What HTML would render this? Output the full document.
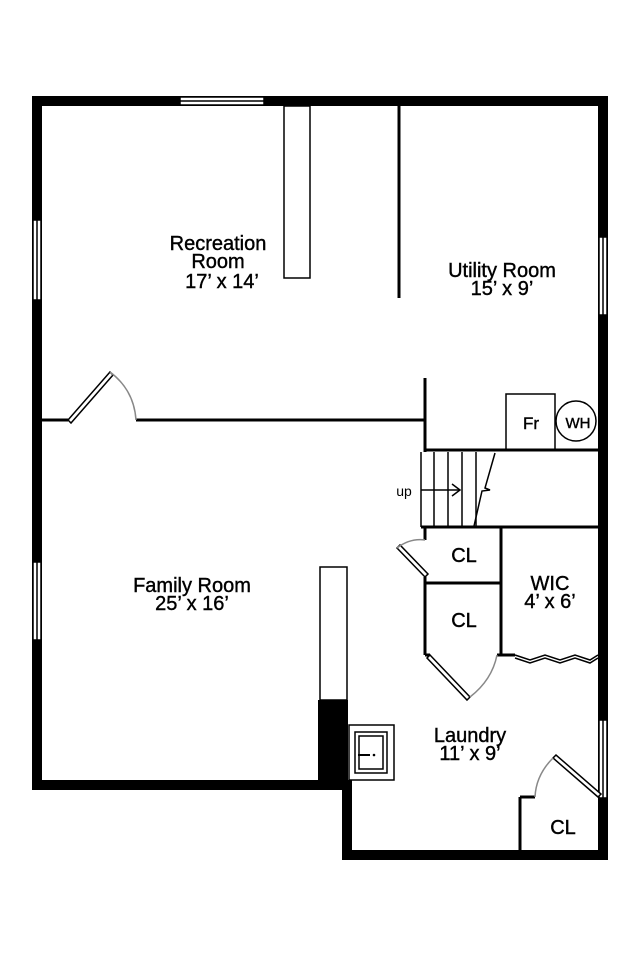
<!DOCTYPE html>
<html><head><style>body{margin:0;background:#fff}svg{display:block}text{font-family:"Liberation Sans",sans-serif;fill:#000}</style></head>
<body>
<svg width="640" height="960" viewBox="0 0 640 960" xmlns="http://www.w3.org/2000/svg">
<g fill="#000">
<rect x="32" y="96" width="576" height="10"/>
<rect x="32" y="96" width="10" height="694"/>
<rect x="598" y="96" width="10" height="764"/>
<rect x="32" y="780" width="320" height="10"/>
<rect x="342" y="780" width="10" height="80"/>
<rect x="342" y="850" width="266" height="10"/>
<rect x="318" y="700" width="30" height="90"/>
</g>
<g fill="#fff" stroke="#000" stroke-width="1.5">
<rect x="180" y="97" width="84" height="8"/><line x1="180" y1="101" x2="264" y2="101"/>
<rect x="33" y="220" width="8" height="80"/><line x1="37" y1="220" x2="37" y2="300"/>
<rect x="33" y="562" width="8" height="78"/><line x1="37" y1="562" x2="37" y2="640"/>
<rect x="599" y="237" width="8" height="78"/><line x1="603" y1="237" x2="603" y2="315"/>
<rect x="599" y="720" width="8" height="78"/><line x1="603" y1="720" x2="603" y2="798"/>
<rect x="284" y="106" width="26" height="172"/>
<rect x="320" y="567" width="27" height="133"/>
<rect x="506" y="394" width="49" height="56"/>
<circle cx="576" cy="421" r="20"/>
<rect x="349" y="725" width="45" height="55"/>
<rect x="355" y="732" width="32" height="41"/>
<rect x="359" y="736" width="24" height="33"/>
</g>
<g stroke="#000" stroke-width="3" fill="none">
<line x1="399" y1="106" x2="399" y2="298"/>
<line x1="42" y1="420" x2="68" y2="420"/>
<line x1="136" y1="420" x2="425" y2="420"/>
<line x1="425" y1="378" x2="425" y2="452"/>
<line x1="425" y1="450" x2="598" y2="450"/>
<line x1="421" y1="527" x2="598" y2="527"/>
<line x1="425" y1="527" x2="425" y2="540"/>
<line x1="425" y1="577" x2="425" y2="655"/>
<line x1="425" y1="583" x2="501" y2="583"/>
<line x1="501" y1="527" x2="501" y2="655"/>
<line x1="425" y1="655" x2="430" y2="655"/>
<line x1="497" y1="655" x2="515" y2="655"/>
<line x1="520" y1="797" x2="520" y2="850"/>
<line x1="520" y1="797" x2="535" y2="797"/>
</g>
<g stroke="#000" stroke-width="1.5" fill="none">
<line x1="421" y1="452" x2="421" y2="527"/>
<line x1="434" y1="452" x2="434" y2="527"/>
<line x1="448" y1="452" x2="448" y2="527"/>
<line x1="462" y1="452" x2="462" y2="527"/>
<line x1="476" y1="452" x2="476" y2="527"/>
<polyline points="495,453 485,488 490,490 482,491 474,526"/>
<line x1="421" y1="490" x2="460" y2="490"/>
<polyline points="452,484 460,490 452,496"/>
<polygon points="68,420 110,372 113,375 71,423" fill="#fff"/>
<polygon points="425,577 397,548 400,545 428,574" fill="#fff"/>
<polygon points="430,655 470,697 467,700 427,658" fill="#fff"/>
<polygon points="598,797 553,758 556,755 601,794" fill="#fff"/>
<polyline points="515,655 530,660 545,655 560,660 575,655 590,660 598,655"/>
<polyline points="515,658 530,663 545,658 560,663 575,658 590,663 598,658"/>
</g>
<g stroke="#888" stroke-width="1.5" fill="none">
<path d="M110,372 Q134,390 136,420"/>
<path d="M397,548 Q410,538 425,540"/>
<path d="M470,697 Q492,680 497,655"/>
<path d="M553,758 Q536,775 535,797"/>
</g>
<line x1="358" y1="755" x2="370" y2="755" stroke="#000" stroke-width="2"/>
<circle cx="374" cy="755" r="1.3"/>
<g font-size="20" text-anchor="middle" stroke="#000" stroke-width="0.4">
<text x="218" y="250">Recreation</text><text x="218" y="268">Room</text><text x="222" y="288">17’ x 14’</text>
<text x="502" y="277">Utility Room</text><text x="502" y="295">15’ x 9’</text>
<text x="192" y="592">Family Room</text><text x="192" y="610">25’ x 16’</text>
<text x="470" y="742">Laundry</text><text x="470" y="760">11’ x 9’</text>
<text x="550" y="590">WIC</text><text x="550" y="608">4’ x 6’</text>
<text x="464" y="562">CL</text><text x="464" y="627">CL</text><text x="563" y="834">CL</text>
<text x="531" y="429" font-size="17">Fr</text><text x="578" y="428" font-size="15">WH</text>
<text x="404" y="496" font-size="14" fill="#333" stroke="none">up</text>
</g>
</svg>
</body></html>
